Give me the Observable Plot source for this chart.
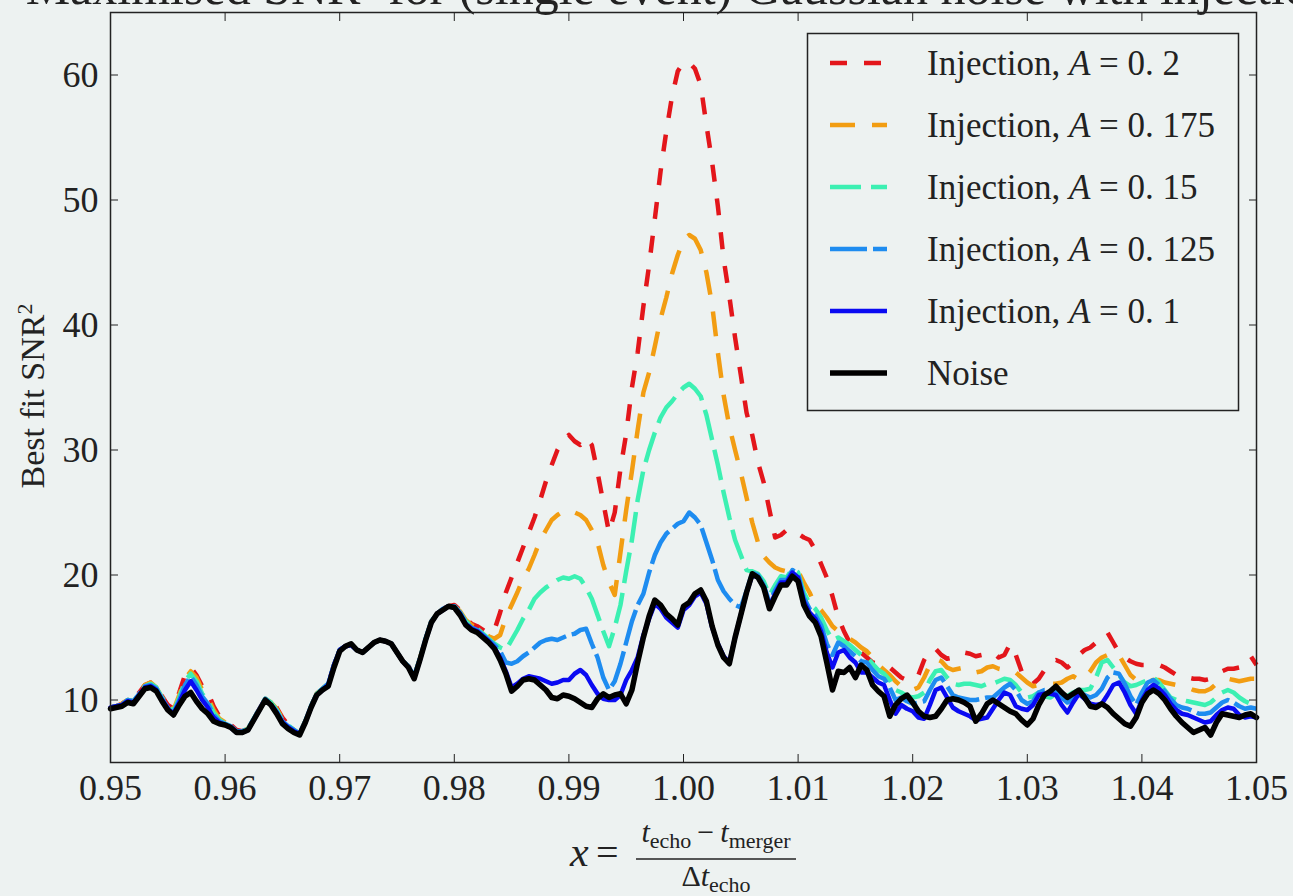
<!DOCTYPE html>
<html><head><meta charset="utf-8">
<script src="https://cdn.jsdelivr.net/npm/d3@7"></script>
<script src="https://cdn.jsdelivr.net/npm/@observablehq/plot@0.6"></script>
<style>
html,body{margin:0;padding:0;background:#edf2f1;overflow:hidden}
#chart{position:relative;width:1293px;height:896px}
</style></head><body><div id="chart"></div>
<script>
// sampling grid of x = (t_echo - t_merger)/Δt_echo
const xStart = 0.95, xStep = 0.0005;

const noise = [9.3,9.4,9.5,9.8,9.7,10.3,10.9,11.0,10.7,9.9,
 9.2,8.8,9.6,10.3,10.6,9.9,9.3,8.9,8.3,8.1,
 8.0,7.8,7.4,7.4,7.6,8.4,9.2,10.0,9.6,8.9,
 8.1,7.7,7.4,7.2,8.2,9.4,10.4,10.8,11.1,12.6,
 13.9,14.3,14.5,14.0,13.8,14.2,14.6,14.8,14.7,14.5,
 13.8,13.1,12.6,11.7,13.2,14.8,16.2,16.9,17.2,17.5,
 17.4,16.8,16.0,15.6,15.4,15.0,14.6,14.1,13.2,12.1,
 10.7,11.1,11.6,11.7,11.6,11.2,10.8,10.2,10.1,10.4,
 10.3,10.1,9.8,9.5,9.4,10.1,10.5,10.2,10.4,10.5,
 9.7,10.8,13.0,15.0,16.7,18.0,17.6,16.9,16.5,16.0,
 17.5,17.8,18.5,18.8,17.9,15.9,14.4,13.4,12.9,15.0,
 16.8,18.6,20.1,19.8,19.0,17.3,18.3,19.2,19.2,19.9,
 19.5,17.6,16.7,16.2,15.1,13.0,10.8,12.3,12.2,12.6,
 11.8,12.8,12.4,11.2,10.7,10.3,8.7,9.6,10.1,10.4,
 9.8,9.1,8.7,8.6,8.7,9.3,10.0,10.1,10.0,9.8,
 9.5,8.3,8.9,9.7,10.0,9.7,9.4,9.1,8.9,8.4,
 8.0,8.5,9.6,10.4,10.7,11.1,10.6,10.2,10.5,10.8,
 10.2,9.5,9.4,9.7,9.4,8.9,8.5,8.1,7.9,8.6,
 9.8,10.5,10.8,10.5,10.0,9.3,8.7,8.2,7.8,7.4,
 7.6,7.8,7.2,8.2,8.9,8.8,8.7,8.6,8.8,8.9,
 8.6];

const inj100 = [9.4,9.5,9.6,9.9,9.8,10.4,11.0,11.1,10.8,10.0,
 9.3,8.9,9.8,10.8,11.5,10.8,10.0,9.4,8.6,8.2,
 8.0,7.8,7.4,7.4,7.6,8.4,9.2,10.0,9.6,9.0,
 8.2,7.8,7.5,7.3,8.2,9.4,10.4,10.8,11.2,12.8,
 14.0,14.3,14.4,14.0,13.8,14.2,14.6,14.8,14.7,14.5,
 13.8,13.1,12.6,11.8,13.2,14.8,16.2,16.9,17.2,17.5,
 17.4,16.9,16.1,15.7,15.5,15.1,14.7,14.2,13.4,12.3,
 11.0,11.3,11.7,11.9,11.8,11.7,11.5,11.3,11.4,11.6,
 11.6,12.1,12.4,12.0,11.2,10.5,10.1,10.0,10.0,10.4,
 11.6,12.4,13.4,15.2,16.5,17.7,17.3,16.6,16.2,15.8,
 17.2,17.6,18.3,18.6,17.7,15.8,14.5,13.5,13.0,15.0,
 16.8,18.6,20.0,19.8,19.0,17.5,18.5,19.4,19.4,20.2,
 19.8,17.9,17.0,16.5,15.5,13.8,12.6,13.8,14.0,13.4,
 13.0,12.2,12.2,11.8,11.4,11.2,10.0,8.9,9.6,9.3,
 9.1,8.6,8.5,9.6,10.8,11.0,10.2,9.4,9.1,8.9,
 8.7,8.4,8.5,8.6,9.3,10.0,10.6,10.4,9.5,9.3,
 9.2,9.6,10.4,10.5,10.5,10.4,9.6,9.0,9.8,10.5,
 10.1,9.7,9.6,9.7,10.4,11.2,11.4,10.6,9.6,8.9,
 10.0,10.8,11.2,10.9,10.4,9.7,9.2,8.9,8.8,8.6,
 8.4,8.2,8.3,8.8,9.2,9.4,9.3,8.8,8.6,8.7,
 8.6];

const inj125 = [9.4,9.5,9.6,10.0,9.9,10.5,11.1,11.2,10.9,10.1,
 9.4,9.0,10.0,11.2,11.9,11.2,10.3,9.7,8.8,8.3,
 8.1,7.9,7.5,7.5,7.7,8.5,9.3,10.1,9.7,9.1,
 8.3,7.9,7.6,7.3,8.3,9.5,10.5,10.9,11.3,12.8,
 14.0,14.3,14.4,14.0,13.8,14.2,14.6,14.8,14.7,14.5,
 13.8,13.1,12.7,11.9,13.3,14.9,16.3,16.9,17.3,17.5,
 17.5,17.0,16.2,15.8,15.6,15.2,14.8,14.4,13.9,13.0,
 12.9,13.1,13.5,13.8,14.2,14.6,14.8,14.9,14.8,15.0,
 15.2,15.3,15.6,15.7,14.5,13.4,11.8,10.8,11.5,12.9,
 14.6,16.3,17.6,18.5,20.2,21.6,22.6,23.3,23.7,24.1,
 24.3,25.0,24.6,24.0,22.6,21.2,19.6,18.7,18.1,17.6,
 17.4,18.7,20.2,20.0,19.2,17.8,18.8,19.6,19.6,20.4,
 20.1,18.2,17.3,16.8,16.0,14.5,13.6,14.6,14.3,13.9,
 13.5,13.1,13.0,12.4,11.9,11.7,11.0,10.0,10.2,9.9,
 9.7,9.8,9.9,10.8,11.6,11.8,11.1,10.4,10.2,10.1,
 10.0,10.0,10.1,10.2,10.2,10.6,11.0,11.3,10.8,10.0,
 9.7,9.9,10.6,10.8,10.8,10.7,10.2,9.8,10.1,10.7,
 10.4,10.2,10.4,10.9,11.8,12.2,12.1,11.3,10.3,9.6,
 10.6,11.4,11.6,11.2,10.7,10.1,9.6,9.4,9.3,9.1,
 8.9,8.9,9.0,9.4,9.8,10.0,9.8,9.5,9.3,9.4,
 9.3];

const inj150 = [9.4,9.5,9.6,10.0,9.9,10.5,11.1,11.3,11.0,10.2,
 9.5,9.1,10.2,11.5,12.1,11.5,10.5,9.9,9.0,8.4,
 8.1,7.9,7.5,7.5,7.7,8.5,9.3,10.1,9.8,9.2,
 8.4,8.0,7.6,7.3,8.3,9.5,10.5,10.9,11.3,12.8,
 14.0,14.3,14.4,14.0,13.8,14.2,14.6,14.8,14.7,14.5,
 13.8,13.1,12.7,11.9,13.3,14.9,16.3,16.9,17.3,17.5,
 17.5,17.0,16.3,15.9,15.7,15.3,14.9,14.5,14.2,14.0,
 14.8,15.6,16.5,17.2,18.1,18.6,19.0,19.3,19.6,19.8,
 19.7,19.9,19.7,19.0,18.1,16.8,15.5,14.3,15.8,17.6,
 20.3,22.8,26.0,28.4,30.0,31.4,32.6,33.4,33.9,34.5,
 35.0,35.3,34.9,34.3,32.8,30.8,28.8,26.6,24.6,22.8,
 21.6,20.4,20.3,20.1,19.5,18.4,19.2,19.9,19.8,20.5,
 20.2,18.6,17.7,17.3,16.6,15.6,14.8,15.0,14.7,14.4,
 14.0,13.6,13.4,12.9,12.4,12.1,11.6,10.8,10.6,10.3,
 10.2,10.3,10.6,11.6,12.3,12.4,11.8,11.3,11.2,11.3,
 11.3,11.2,11.1,11.3,11.3,11.5,11.7,11.6,11.2,10.6,
 10.2,10.3,10.6,10.3,10.2,10.5,10.4,10.3,10.6,10.8,
 10.8,10.9,11.8,13.0,13.2,12.6,12.0,11.4,11.1,11.2,
 11.4,11.6,11.8,11.4,10.8,10.2,10.0,10.0,9.9,9.8,
 9.7,9.6,9.8,10.2,10.6,10.8,10.6,10.2,9.9,9.7,
 9.7];

const inj175 = [9.4,9.5,9.7,10.0,9.9,10.6,11.2,11.4,11.0,10.2,
 9.5,9.2,10.4,11.7,12.3,11.8,10.8,10.2,9.2,8.5,
 8.2,7.9,7.5,7.5,7.7,8.5,9.3,10.1,9.8,9.3,
 8.5,8.0,7.6,7.3,8.3,9.5,10.5,10.9,11.3,12.8,
 14.0,14.3,14.4,14.0,13.8,14.2,14.6,14.8,14.7,14.5,
 13.8,13.1,12.7,11.9,13.3,14.9,16.3,16.9,17.3,17.5,
 17.5,17.1,16.4,16.0,15.8,15.5,15.1,14.9,15.2,16.6,
 17.6,18.6,19.7,20.5,21.6,22.8,23.6,24.4,24.8,25.1,
 25.2,25.0,24.8,24.4,23.6,22.6,20.8,19.4,18.4,21.8,
 25.2,28.3,31.6,34.6,36.2,38.3,40.5,42.2,44.1,45.6,
 46.8,47.2,46.9,46.0,44.2,41.6,37.8,34.4,31.9,30.0,
 28.2,26.2,24.2,22.6,21.5,21.0,20.6,20.4,20.3,20.4,
 20.3,19.4,18.6,17.6,17.2,16.6,15.9,15.5,15.2,14.9,
 14.6,14.2,13.9,13.4,12.8,12.4,12.0,11.5,11.1,10.9,
 10.8,11.0,11.8,12.8,13.3,13.1,12.6,12.4,12.5,12.6,
 12.4,12.2,12.3,12.6,12.7,12.5,12.4,12.3,12.2,11.8,
 11.4,11.1,11.2,11.3,11.3,11.3,11.4,11.7,11.9,11.6,
 11.8,12.3,13.0,13.4,13.6,13.8,13.6,12.8,12.0,11.6,
 11.6,11.5,11.6,11.6,11.4,11.3,11.2,11.1,11.0,10.8,
 10.7,10.7,10.9,11.3,11.6,11.7,11.6,11.5,11.6,11.7,
 11.7];

const inj200 = [9.4,9.5,9.7,10.0,9.9,10.6,11.2,11.4,11.1,10.3,
 9.6,9.3,10.6,12.0,12.6,12.0,11.1,10.6,9.5,8.7,
 8.3,8.0,7.6,7.5,7.7,8.5,9.3,10.1,9.9,9.4,
 8.6,8.0,7.6,7.3,8.3,9.5,10.5,10.9,11.3,12.8,
 14.0,14.3,14.4,14.0,13.8,14.2,14.6,14.8,14.7,14.5,
 13.8,13.1,12.7,11.9,13.3,14.9,16.3,16.9,17.3,17.5,
 17.6,17.2,16.5,16.1,15.9,15.6,15.3,15.6,17.0,18.6,
 19.8,21.0,22.2,23.4,24.6,26.0,27.5,28.8,30.0,30.8,
 31.2,30.7,30.4,31.0,30.4,28.2,25.8,23.4,25.0,28.5,
 31.3,35.0,37.8,41.5,44.8,48.5,52.3,55.5,58.3,60.3,
 61.0,61.0,60.5,59.2,56.0,53.0,49.5,45.3,42.3,39.0,
 36.0,33.0,31.2,29.0,27.4,25.2,23.0,23.2,23.6,23.6,
 23.3,23.0,22.8,22.0,20.9,19.8,18.3,16.6,15.5,14.6,
 14.2,13.8,13.4,13.0,12.9,12.8,12.6,12.2,11.8,11.6,
 11.6,12.0,13.2,14.0,14.1,13.6,13.3,13.4,13.7,13.8,
 13.7,13.5,13.6,13.7,13.8,13.4,13.6,14.5,13.6,12.3,
 11.6,11.3,11.7,12.4,13.0,13.2,13.0,12.6,13.0,13.6,
 14.0,14.2,14.6,15.0,15.4,14.6,13.8,13.4,13.1,12.9,
 12.8,12.8,12.8,12.8,12.6,12.3,12.0,11.8,11.8,11.7,
 11.7,11.6,11.7,12.0,12.3,12.5,12.5,12.6,13.1,13.5,
 12.8];

const seriesLabels = ["0. 2", "0. 175", "0. 15", "0. 125", "0. 1", "Noise"];
const seriesColors = ["#e3161b", "#f29d12", "#3cf0b2", "#1e8cf0", "#0a0af2", "#000000"];
const seriesDash = ["17,17", "25,17", "31,10", "37,6", null, null];
const seriesWidth = [4.5, 4.5, 4.5, 4.5, 4.5, 5.5];
const seriesValues = [inj200, inj175, inj150, inj125, inj100, noise];

const xTicks = [0.95,0.96,0.97,0.98,0.99,1.00,1.01,1.02,1.03,1.04,1.05];
const yTicks = [10,20,30,40,50,60];

const xs = noise.map((_, i) => +(xStart + i * xStep).toFixed(4));
const series = seriesValues.map((vals, k) => ({
  label: seriesLabels[k], color: seriesColors[k], dash: seriesDash[k], width: seriesWidth[k],
  data: vals.map((v, i) => ({x: xs[i], y: v}))
}));

const W = 1293, H = 896;
const serif = "'Liberation Serif', 'Times New Roman', serif";

const plot = Plot.plot({
  width: W, height: H,
  marginLeft: 110, marginRight: 37, marginTop: 12, marginBottom: 134,
  style: {background: "#edf2f1", fontFamily: serif, color: "#222", overflow: "hidden"},
  x: {domain: [0.95, 1.05], label: null},
  y: {domain: [5, 65], label: null},
  marks: [
    ...series.map(s => Plot.line(s.data, {
      x: "x", y: "y", stroke: s.color, strokeWidth: s.width,
      strokeDasharray: s.dash || undefined,
      strokeLinecap: s.dash ? "butt" : "round", strokeLinejoin: "round"
    })),
    Plot.axisX(xTicks, {anchor: "bottom", tickSize: 0, tickPadding: 12, fontSize: 36, tickFormat: d => d.toFixed(2)}),
    Plot.axisX(xTicks, {anchor: "bottom", tickSize: 8, dy: -8, tickFormat: () => ""}),
    Plot.axisX(xTicks, {anchor: "top", tickSize: 8, dy: 8, tickFormat: () => ""}),
    Plot.axisY(yTicks, {anchor: "left", tickSize: 0, tickPadding: 12, fontSize: 36, tickFormat: d => String(d)}),
    Plot.axisY(yTicks, {anchor: "left", tickSize: 8, dx: 8, tickFormat: () => ""}),
    Plot.axisY(yTicks, {anchor: "right", tickSize: 8, dx: -8, tickFormat: () => ""}),
    Plot.frame({stroke: "#222", strokeWidth: 1.5})
  ]
});

const svg = d3.select(plot);
svg.style("font-family", serif);

// Title (its top runs off the page edge, as in the source)
svg.append("text").attr("x", 690).attr("y", 4).attr("text-anchor", "middle")
  .attr("font-size", 50).attr("fill", "#222")
  .text("Maximised SNR² for (single event) Gaussian noise with injections");

// Legend
const lg = svg.append("g").attr("text-anchor", "start");
lg.append("rect").attr("x", 807.5).attr("y", 33.5).attr("width", 431).attr("height", 377)
  .attr("fill", "#edf2f1").attr("stroke", "#222").attr("stroke-width", 1.5);
series.forEach((s, i) => {
  const cy = 63 + i * 62;
  lg.append("line").attr("x1", 830).attr("x2", 887).attr("y1", cy).attr("y2", cy)
    .attr("stroke", s.color).attr("stroke-width", s.width)
    .attr("stroke-dasharray", s.dash || null);
  const t = lg.append("text").attr("x", 927).attr("y", cy + 12).attr("font-size", 35)
    .attr("fill", "#222").attr("text-anchor", "start");
  if (s.label === "Noise") { t.text("Noise"); }
  else {
    t.append("tspan").text("Injection, ");
    t.append("tspan").attr("font-style", "italic").text("A");
    t.append("tspan").text("\u2005=\u2005" + s.label);
  }
});

// Y label
const yl = svg.append("text").attr("transform", "translate(44,396) rotate(-90)")
  .attr("text-anchor", "middle").attr("font-size", 34).attr("fill", "#222");
yl.append("tspan").text("Best fit SNR");
yl.append("tspan").attr("dy", -12).attr("font-size", 22).text("2");

// X label: x = (t_echo − t_merger) / Δt_echo
const xl = svg.append("g").attr("fill", "#222");
xl.append("text").attr("x", 570).attr("y", 866).attr("text-anchor", "start")
  .attr("font-size", 42).attr("font-style", "italic").text("x");
xl.append("text").attr("x", 596).attr("y", 866).attr("text-anchor", "start")
  .attr("font-size", 40).text("=");
xl.append("line").attr("x1", 636).attr("x2", 796).attr("y1", 859).attr("y2", 859)
  .attr("stroke", "#222").attr("stroke-width", 1.6);
const num = xl.append("text").attr("x", 716).attr("y", 842).attr("text-anchor", "middle").attr("font-size", 30);
num.append("tspan").attr("font-style", "italic").text("t");
num.append("tspan").attr("font-size", 22).attr("dy", 6).text("echo");
num.append("tspan").attr("dy", -6).text("\u2009\u2212\u2009");
num.append("tspan").attr("font-style", "italic").text("t");
num.append("tspan").attr("font-size", 22).attr("dy", 6).text("merger");
const den = xl.append("text").attr("x", 716).attr("y", 886).attr("text-anchor", "middle").attr("font-size", 30);
den.append("tspan").text("\u0394");
den.append("tspan").attr("font-style", "italic").text("t");
den.append("tspan").attr("font-size", 22).attr("dy", 6).text("echo");

document.getElementById("chart").appendChild(plot);
</script></body></html>
